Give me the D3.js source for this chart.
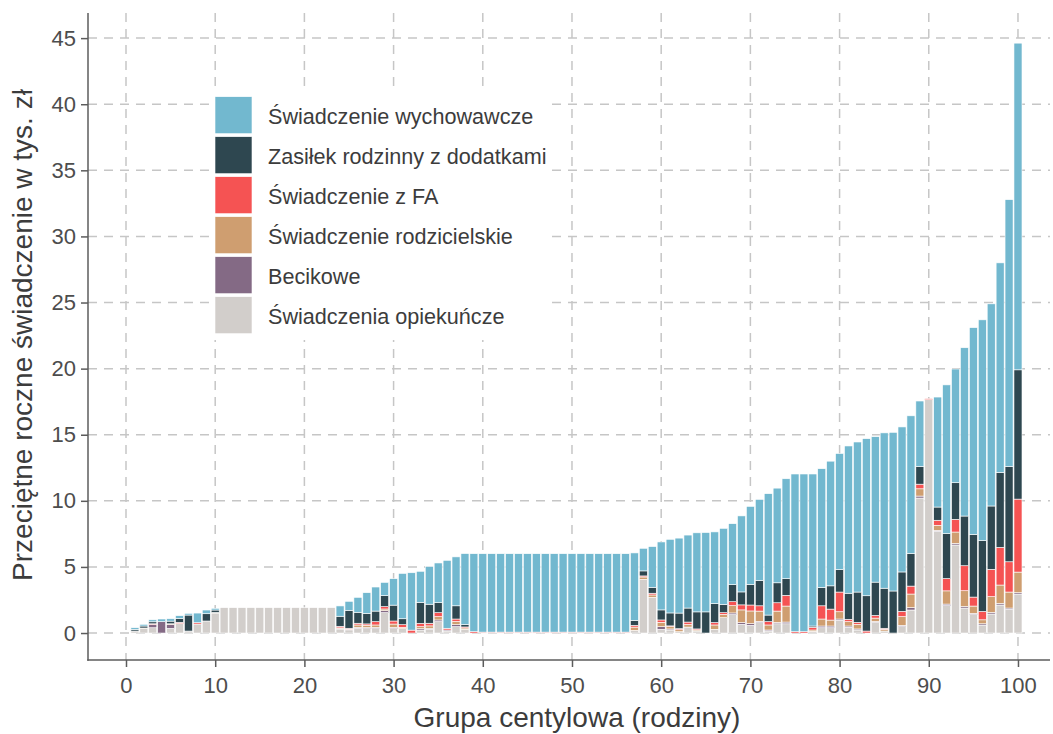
<!DOCTYPE html>
<html><head><meta charset="utf-8">
<script src="https://cdn.jsdelivr.net/npm/d3@7"></script>
<style>body{margin:0;background:#fff}svg{display:block;font-family:"Liberation Sans",Arial,sans-serif}</style>
</head><body><svg id="c" width="1053" height="734"></svg>
<script>
const percentiles = d3.range(1, 101);
const seriesNames = ["Świadczenia opiekuńcze","Becikowe","Świadczenie rodzicielskie","Świadczenie z FA","Zasiłek rodzinny z dodatkami","Świadczenie wychowawcze"];
const seriesColors = ["#d2cecb","#846a85","#cf9e70","#f55353","#2e4750","#72b8cf"];
const legendOrder = ["Świadczenie wychowawcze","Zasiłek rodzinny z dodatkami","Świadczenie z FA","Świadczenie rodzicielskie","Becikowe","Świadczenia opiekuńcze"];
const xTicks = [0,10,20,30,40,50,60,70,80,90,100];
const yTicks = [0,5,10,15,20,25,30,35,40,45];

const opiekuncze = [0.15,0.35,0.4,0,0.35,0.71,0.15,0.68,0.91,1.51,
 1.92,1.92,1.92,1.92,1.92,1.92,1.92,1.92,1.92,1.92,1.92,1.92,1.92,0.3,0.24,0.35,0.33,0.33,1.54,0.33,
 0.33,0,0.23,0.28,0.86,0.15,0.48,0.28,0,0,
 0,0,0,0,0,0,0,0,0,0,0,0,0,0,0,0,0.2,4.06,2.7,0.28,
 0.23,0.1,0.45,0.15,0,0.28,1.16,1.39,0.66,0.58,
 0.78,0.15,0.7,0.7,0,0,0.13,0.4,0.4,0.96,
 0.43,0.23,0,0.8,0.15,0,0.48,1.74,10.21,17.65,
 7.69,2.07,6.66,1.89,1.39,0.6,1.44,2.12,1.79,2.95];
const becikowe = [0,0,0.25,0.86,0.3,0,0,0,0,0,
 0,0,0,0,0,0,0,0,0,0,0,0,0,0.04,0.04,0.08,0.08,0.1,0.15,0.1,
 0,0,0.1,0.08,0.13,0.08,0.15,0,0,0,
 0,0,0,0,0,0,0,0,0,0,0,0,0,0,0,0,0,0,0,0.2,
 0.08,0,0,0,0,0,0,0.13,0.13,0.13,
 0.1,0.08,0.1,0.13,0,0,0,0.13,0.13,0.1,
 0.1,0.08,0,0.08,0,0,0.1,0.18,0.15,0,
 0.08,0.12,0.12,0.12,0.1,0.1,0.12,0.12,0.1,0.1];
const rodzicielskie = [0,0.03,0,0,0.05,0,0,0,0,0.05,
 0,0,0,0,0,0,0,0,0,0,0,0,0,0.05,0,0.18,0.18,0.18,0.13,0.25,
 0.1,0,0.15,0.18,0.25,0,0.25,0.1,0,0,
 0,0,0,0,0,0,0,0,0,0,0,0,0,0,0,0,0.25,0.18,0.18,0.33,
 0.18,0.15,0.2,0.08,0,0.33,0.25,0.55,0.96,0.96,
 0.78,0.38,0.86,1.21,0,0,0.1,0.53,0.45,0.55,
 0.33,0.35,0,0.25,0.13,0,0.66,1.03,0.55,0,
 0.38,1.0,0.86,1.19,0.55,0.3,1.19,1.39,1.21,1.56];
const fa = [0,0,0.05,0,0,0.1,0,0.1,0,0,
 0,0,0,0,0,0,0,0,0,0,0,0,0,0.12,0.08,0.13,0.1,0.25,0.18,0.23,
 0.2,0.22,0.25,0.2,0.3,0.13,0.18,0.08,0.1,0.07,
 0.07,0.07,0.07,0.07,0.07,0.07,0.07,0.07,0.07,0.07,0.07,0.07,0.07,0.07,0.07,0.07,0.13,0.08,0.13,0.18,
 0.05,0.08,0.18,0.08,0,0.18,0.13,0.3,0.38,0.45,
 0.4,0.25,0.63,0.81,0.1,0.1,0.2,1.0,0.83,1.49,
 0.18,0.15,0.15,0.2,0.08,0,0.4,0.6,0.35,0.08,
 0.38,0.93,0.96,1.89,0.68,0.63,2.07,2.85,2.29,5.52];
const zasilek = [0.13,0.15,0.15,0,0.2,0.3,1.21,0,0.55,0.18,
 0,0,0,0,0,0,0,0,0,0,0,0,0,0.76,1.36,0.83,0.8,0.8,0.83,1.2,
 0.45,0,1.59,1.44,0.76,0,1.0,0.18,0,0,
 0,0,0,0,0,0,0,0,0,0,0,0,0,0,0,0,0.38,0.38,0.45,0.76,
 0.98,1.18,1.06,1.29,1.6,1.44,0.63,1.29,0.98,1.56,
 1.92,0.5,1.51,1.26,0,0,0.1,1.39,1.76,1.71,
 1.97,2.29,2.67,2.52,3.03,3.18,2.98,2.47,1.34,0,
 1.0,3.4,2.77,3.76,4.74,5.37,4.79,5.67,7.21,9.78];
const wychowawcze = [0.12,0.13,0.15,0.2,0.18,0.2,0.13,0.73,0.28,0.13,
 0,0,0,0,0,0,0,0,0,0,0,0,0,0.78,0.68,1.13,1.56,1.82,1.0,2.0,
 3.43,4.34,2.35,2.85,3.0,5.14,3.7,5.37,5.9,5.93,
 5.93,5.93,5.93,5.93,5.93,5.93,5.93,5.93,5.93,5.93,5.93,5.93,5.93,5.93,5.93,5.93,5.1,1.71,3.08,5.14,
 5.57,5.67,5.52,5.98,6.0,5.42,5.75,4.61,5.75,5.9,
 6.13,9.18,7.16,7.56,11.93,11.93,11.5,8.98,9.43,8.77,
 11.14,11.35,11.88,11.0,11.75,12.0,10.97,10.41,4.95,0,
 8.32,11.25,8.6,12.73,15.64,16.69,15.29,15.85,20.18,24.71];

const seriesData = [opiekuncze,becikowe,rodzicielskie,fa,zasilek,wychowawcze];
const rows = percentiles.map((p,i)=>{const r={p}; seriesNames.forEach((n,k)=>r[n]=seriesData[k][i]); return r;});
const stack = d3.stack().keys(seriesNames)(rows);
const color = d3.scaleOrdinal().domain(seriesNames).range(seriesColors);

const svg = d3.select("#c");
const L=88, R=1050, T=13, B=660;
const x = d3.scaleLinear().domain([-4.26,103.59]).range([L,R]);
const y = d3.scaleLinear().domain([-2.04,46.9]).range([B,T]);
const gridCol="#c6c6c6", axisCol="#5c5c5c", txtCol="#4d4d4d";

// grid
svg.append("g").selectAll("line").data(yTicks).join("line")
 .attr("x1",L).attr("x2",R).attr("y1",d=>y(d)).attr("y2",d=>y(d))
 .attr("stroke",gridCol).attr("stroke-width",1.5).attr("stroke-dasharray","9,7");
svg.append("g").selectAll("line").data(xTicks).join("line")
 .attr("x1",d=>x(d)).attr("x2",d=>x(d)).attr("y1",T).attr("y2",B)
 .attr("stroke",gridCol).attr("stroke-width",1.5).attr("stroke-dasharray","9,7");

// bars
const bw = x(0.9)-x(0);
svg.append("g").selectAll("g").data(stack).join("g").attr("fill",d=>color(d.key))
 .selectAll("rect").data(d=>d).join("rect")
 .attr("x",d=>x(d.data.p)-bw/2).attr("width",bw)
 .attr("y",d=>y(d[1])).attr("height",d=>Math.max(0,y(d[0])-y(d[1])))
 .attr("stroke","#fff").attr("stroke-width",0.6);

// axes
const yAxis = d3.axisLeft(y).tickValues(yTicks).tickSize(7).tickPadding(5);
const xAxis = d3.axisBottom(x).tickValues(xTicks).tickSize(7).tickPadding(10);
const gy = svg.append("g").attr("transform",`translate(${L},0)`).call(yAxis);
const gx = svg.append("g").attr("transform",`translate(0,${B})`).call(xAxis);
[gx,gy].forEach(g=>{
 g.select(".domain").remove();
 g.selectAll(".tick line").attr("stroke",axisCol).attr("stroke-width",1.5);
 g.selectAll(".tick text").attr("fill",txtCol).style("font-size","22px").style("font-family","Liberation Sans, Arial, sans-serif");
});
svg.append("line").attr("x1",L).attr("x2",L).attr("y1",T).attr("y2",B+0.75).attr("stroke",axisCol).attr("stroke-width",1.5);
svg.append("line").attr("x1",L-0.75).attr("x2",R).attr("y1",B).attr("y2",B).attr("stroke",axisCol).attr("stroke-width",1.5);

// titles
svg.append("text").attr("x",577).attr("y",727).attr("text-anchor","middle")
 .attr("fill","#3c3c3c").style("font-size","28px").text("Grupa centylowa (rodziny)");
svg.append("text").attr("transform",`translate(31.5,335) rotate(-90)`).attr("text-anchor","middle")
 .attr("fill","#3c3c3c").style("font-size","28px").text("Przeciętne roczne świadczenie w tys. zł");

// legend
const lg = svg.append("g");
lg.append("rect").attr("x",209).attr("y",90).attr("width",342).attr("height",250).attr("fill","#fff");
legendOrder.forEach((n,i)=>{
 lg.append("rect").attr("x",215).attr("y",96.7+40*i).attr("width",37).attr("height",37).attr("fill",color(n)).attr("stroke","#fff").attr("stroke-width",0.6);
 lg.append("text").attr("x",268).attr("y",123.5+40*i).attr("fill","#3c3c3c").style("font-size","21.6px").text(n);
});
</script></body></html>
